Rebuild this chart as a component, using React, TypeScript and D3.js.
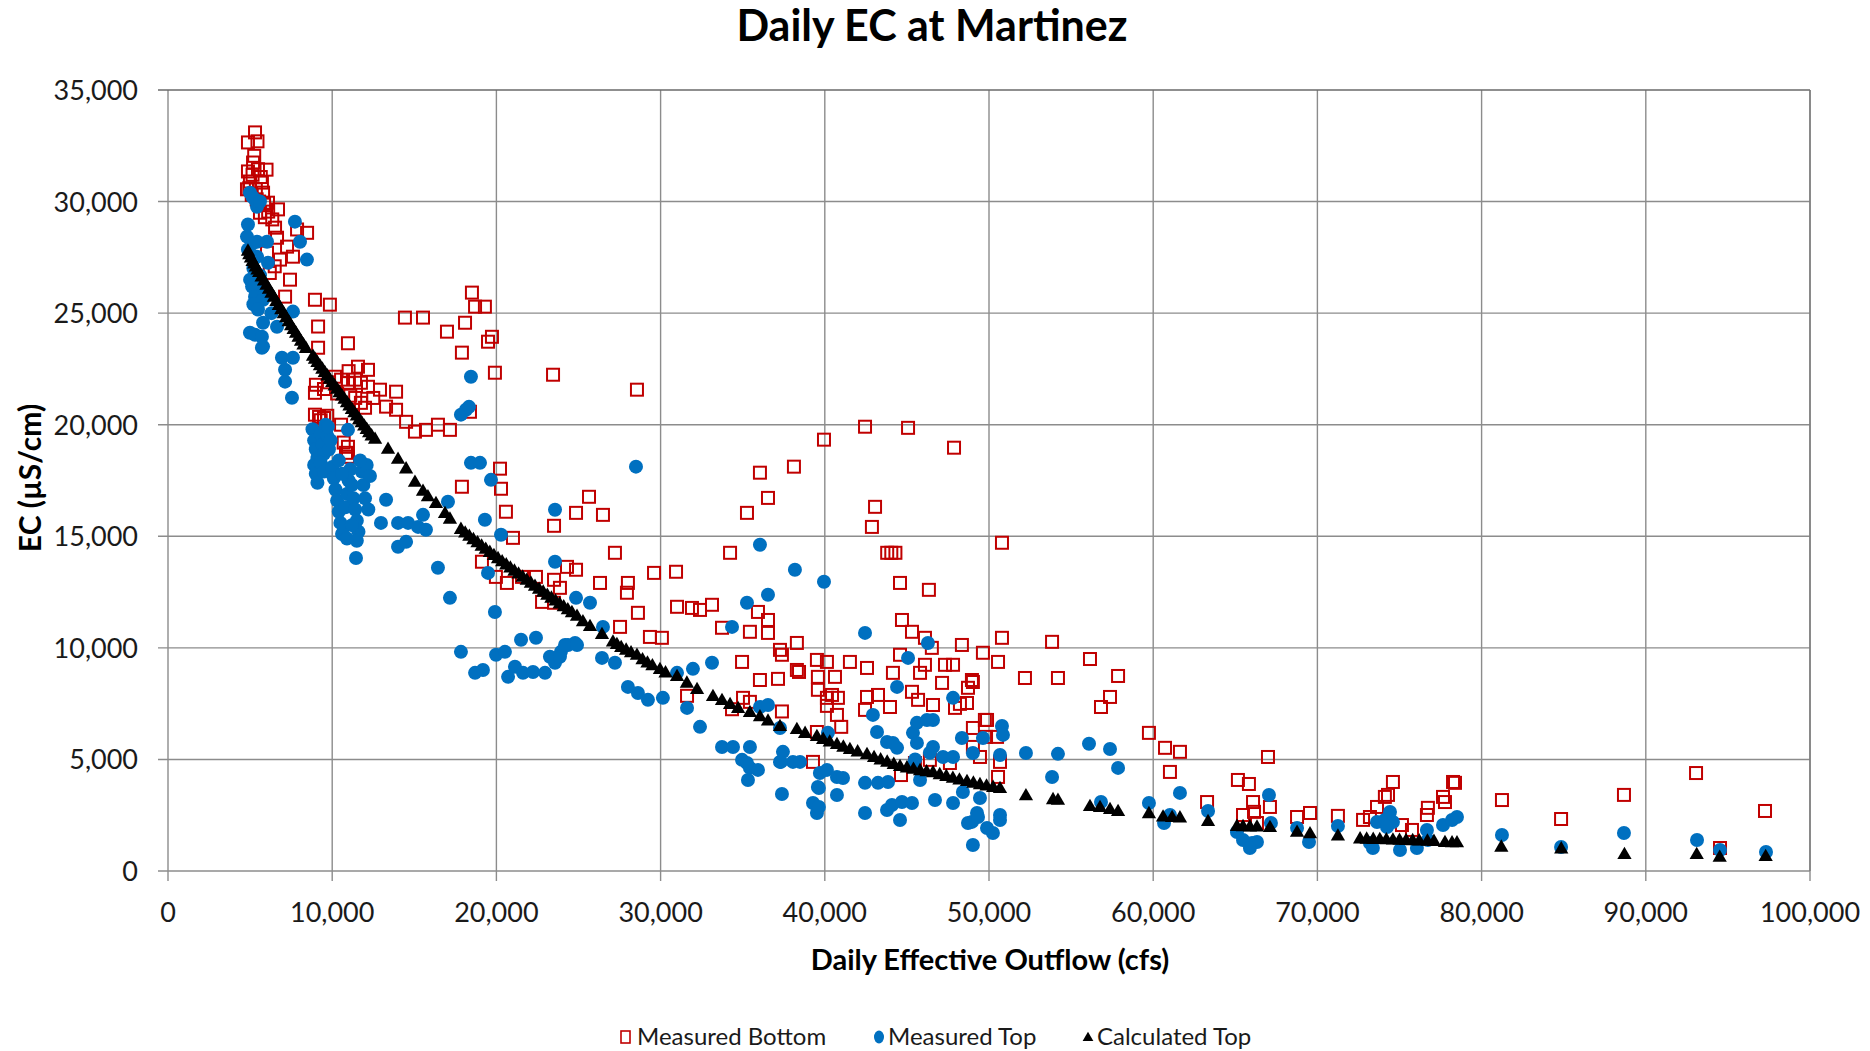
import React from "react";
import * as d3 from "d3";

const chartTitle = "Daily EC at Martinez";
const xAxisTitle = "Daily Effective Outflow (cfs)";
const yAxisTitle = "EC (µS/cm)";
const xTicks = [0, 10000, 20000, 30000, 40000, 50000, 60000, 70000, 80000, 90000, 100000];
const yTicks = [0, 5000, 10000, 15000, 20000, 25000, 30000, 35000];
const seriesNames = ["Measured Bottom", "Measured Top", "Calculated Top"];

// [Daily Effective Outflow (cfs), EC (µS/cm)]
const measuredBottom: [number, number][] = [
  [5300,33100],[4870,32650],[5450,32700],[5250,32050],[5180,31750],[4870,31350],[5480,31450],[6000,31430],[5150,31200],[5650,31100],[4990,30900],[5720,30850],[4950,30600],[5350,30550],[4810,30550],[5790,30400],[5100,30300],[5400,30100],[5550,30000],[5850,29900],[6090,29950],[6700,29650],[6100,29550],[5600,29500],[5900,29300],[6350,29200],[6520,28830],[7860,28750],[8470,28600],[6640,28380],[7250,27980],[6030,27710],[6820,27400],[7610,27530],[6500,27100],[6200,26800],[7430,26500],[7130,25740],[8950,25600],[9860,25380],[9140,24400],[10960,23650],[9140,23450],[11570,22600],[12180,22460],[11000,22400],[9010,21790],[8950,21430],[9800,21900],[9500,21600],[10170,22150],[10540,22020],[10960,21880],[11390,22020],[11750,21880],[12180,21700],[10300,21400],[11100,21300],[11400,21200],[12500,21200],[12910,21570],[13890,21480],[13280,20810],[13890,20670],[14500,20130],[15040,19690],[15710,19770],[16440,20000],[17170,19770],[18390,20580],[11750,20980],[12000,20760],[10540,20000],[8950,20450],[9200,20350],[9500,20300],[9700,20400],[9300,20200],[10700,19200],[10960,19010],[10840,18740],[10960,18560],
  [14430,24800],[15530,24800],[18510,25920],[18700,25290],[19300,25290],[16990,24170],[18090,24570],[19490,23720],[19730,23940],[17900,23230],[19910,22330],[23450,22240],[28560,21570],
  [20220,18030],[20280,17130],[17900,17220],[20580,16100],[21010,14930],[23510,15470],[24850,16050],[25640,16770],[26490,15960],[27220,14260],[19120,13860],[19970,13180],[20640,12910],[21560,13180],[22410,13180],[23510,13050],[23870,12690],[24300,13630],[24850,13500],[22780,12060],[23510,12020],[26310,12910],[28010,12910],[27950,12470],[28620,11570],[27530,10940],[29350,10490],[30080,10450],[29600,13360],[30940,13410],[31000,11840],[31910,11790],[32400,11700],[33130,11930],[31610,7850],
  [35260,16050],[36540,16720],[43060,16320],[42870,15420],[34230,14260],[43800,14260],[44050,14260],[44300,14260],[50790,14710],[42450,19910],[45070,19860],[39950,19330],[47870,18970],[38120,18120],[36050,17850],[35930,11610],[36540,11250],[36540,10670],[33740,10900],[35440,10720],[37270,9910],[37390,9690],[38300,10220],[44700,11250],[45310,10720],[46100,10450],[46520,10000],[48350,10130],[49630,9780],[50550,9370],[34960,9370],[36050,8560],[37150,8610],[38300,9010],[38430,8920],[39520,9460],[40130,9370],[39580,8700],[40620,8700],[39580,8120],[41530,9370],[42570,9100],[44150,8880],[44580,9690],[45800,8880],[46100,9240],[47320,9240],[47810,9240],[47140,8430],[48960,8560],[48720,8210],[34350,7250],[35440,7580],[35020,7760],[37390,7150],[40130,7760],[40800,7760],[40130,7400],[40440,7890],[42570,7800],[43240,7890],[42450,7220],[43970,7350],[45310,8030],[45680,7670],[46590,7440],[47930,7310],[48660,7530],[41000,6460],[40740,6995],[39520,6230],[39280,4890],[44640,4300],[45490,4840],[46400,4980],[47620,4840],[49020,6410],[49750,6770],[50490,6010],[49020,5560],[49450,5110],[50550,4215],[44580,12910],[46340,12600],[50790,10450],[49880,6770],[49820,6010],[50670,4890],[48230,7490],[49020,8470],
  [53840,10270],[52190,8650],[54200,8650],[56150,9500],[57860,8740],[57370,7800],[56820,7350],[59740,6190],[60720,5520],[61630,5340],[61020,4440],[63280,3090],[65160,4080],[65830,3900],[66990,5110],[66140,2650],[67110,2870],[66080,3090],[65470,2510],[66320,2150],[68760,2420],[69550,2600],[71250,2470],[72780,2290],[73200,2420],[73630,2870],[74110,3320],[74300,3410],[74600,3990],[75150,2060],[75760,1840],[76670,2510],[76730,2830],[77650,3320],[77770,3090],[78260,3990],[78380,3950],[81240,3180],[84840,2330],[88670,3410],[93060,4390],[94520,1030],[97260,2690]
];

const measuredTop: [number, number][] = [
  [4990,30400],[5300,30090],[5420,29770],[5150,30200],[5600,30000],[7730,29100],[8040,28200],[8460,27400],[4870,28970],[4810,28430],[5420,28200],[6030,28200],[5100,28100],[4870,27850],[5420,27530],[6090,27260],[5200,27000],[5600,26700],[5000,26500],[5400,26300],[5120,26190],[5900,26000],[5300,25740],[5790,25600],[5200,25400],[5480,25160],[6300,25000],[7610,25070],[6640,24390],[5790,24570],[4990,24120],[5300,24030],[5720,23940],[5790,23500],[5720,23450],[6940,23000],[7610,23000],[7130,22460],[7130,21930],[7550,21210],
  [8800,19800],[8900,19300],[9000,18900],[9100,18500],[8900,18200],[9000,17800],[9100,17400],[9300,19600],[9400,19100],[9500,18700],[9300,18300],[9500,17900],[9700,19500],[9800,18900],[9600,20000],[9900,19300],[9740,19910],[10960,19770],
  [10000,18100],[10100,17600],[10200,17100],[10300,16600],[10400,16100],[10500,15600],[10600,15100],[10700,15400],[10800,16300],[10900,16900],[11000,17500],[11100,18000],[10600,17800],[11200,17300],[11300,16700],[11400,16200],[11500,15700],[11600,15200],[11500,14800],[11450,14030],[11800,17900],[11900,17300],[12000,16700],[12100,18200],[12300,17700],[11700,18400],[10400,18400],[12200,16200],[10900,14900],[11200,15500],
  [12970,15600],[14010,15600],[14620,15600],[15230,15420],[15710,15290],[15530,15960],[13280,16640],[14010,14530],[14500,14750],[16440,13590],[17170,12240],[17050,16550],[19300,15740],[19670,17530],[20280,15070],[18450,18290],[19000,18290],[19490,13360],[19910,11610],[17840,9820],[18700,8880],[19180,9010],[19980,9690],[20520,9820],[21500,10360],[22410,10450],[20710,8700],[21130,9150],[21620,8880],[22230,8920],[22960,8880],[23570,9330],[23930,9820],[24360,10130],[24790,10220],[23570,16190],[23570,13860],[24850,12240],[18450,22150],[17840,20450],[18150,20670],[18330,20800],[28500,18120],
  [25700,12020],[26490,10940],[24180,10130],[24910,10130],[23260,9600],[23870,9600],[26430,9550],[27220,9330],[28010,8250],[28620,7980],[29230,7670],[30140,7760],[31000,8880],[31970,9060],[33130,9330],[31610,7310],[32400,6460],[33740,5560],[34410,5560],[35440,5560],[34960,4980],[35440,4620],[35930,4530],[35320,4080],[34350,10940],[35260,12020],[36050,14620],[38180,13500],[39950,12960],[36540,12380],
  [42450,10670],[46280,10220],[45070,9550],[36050,7350],[36540,7440],[37450,5340],[37270,4890],[38060,4890],[38490,4890],[37390,3450],[37270,6410],[40190,6190],[39700,4390],[39580,3770],[40130,4530],[40740,4215],[41110,4170],[40740,3408],[39280,3050],[39520,2600],[42450,2600],[42450,3950],[43240,3950],[43850,3990],[43790,2735],[44090,2960],[44700,3094],[45310,3050],[44580,2287],[42930,6995],[43180,6230],[43790,5780],[44150,5740],[44400,5520],[44400,8250],[45370,6190],[45610,6640],[46220,6770],[46590,6770],[45610,5740],[46590,5560],[47200,5110],[47810,5110],[45370,4750],[45800,4080],[46710,3180],[47810,3050],[47810,7760],[48350,5960],[49020,5290],[49630,5960],[48720,2150],[49270,2600],[49880,1930],[50240,1700],[49020,1165],[48410,3540],[49450,3270],[50790,6500],[50850,6100],[50670,5200],[50670,2510],[50670,2287],[48960,2200],[49330,2420],[35260,4840],[37330,4890],[39640,3720],[39640,2870],[45500,5000],[46400,5300],
  [52250,5290],[53840,4215],[54200,5250],[56090,5700],[57370,5470],[57860,4620],[56820,3094],[59740,3050],[61630,3500],[60660,2150],[61020,2510],[63340,2690],[65100,1750],[65470,1390],[66020,1255],[66320,1300],[65890,1030],[67050,3408],[67170,2150],[68760,1928],[69490,1300],[71250,2018],[73200,1255],[73380,1031],[73630,2197],[74110,2287],[74420,2646],[74600,2197],[74240,1973],[75030,941],[76060,1031],[76670,1840],[76730,1390],[77650,2063],[78200,2287],[78500,2420],[81240,1614],[84840,1076],[88670,1704],[93120,1390],[94520,941],[97320,850]
];

const calculatedTop: [number, number][] = [
  [4870,27760],[4950,27600],[5050,27450],[5150,27300],[5250,27180],[5350,27050],[5450,26920],[5550,26800],[5700,26600],[5850,26420],[6000,26230],[6150,26050],[6300,25870],[6450,25690],[6600,25500],[6750,25320],[6900,25140],[7050,24960],[7200,24780],[7350,24600],[7500,24420],[7650,24250],[7800,24080],[7950,23900],[8100,23720],[8250,23560],[8400,23400],
  [8830,23050],[8950,22920],[9100,22770],[9250,22620],[9400,22470],[9550,22320],[9700,22170],[9850,22020],[10000,21870],[10150,21720],[10300,21570],[10450,21420],[10600,21270],[10750,21120],[10900,20970],[11050,20820],[11200,20670],[11350,20520],[11500,20370],[11650,20220],[11800,20070],[11950,19920],[12100,19770],[12250,19620],[12400,19480],[12610,19330],
  [13400,18880],[14010,18430],[14500,18000],[15040,17400],[15530,17000],[15830,16750],[16320,16450],[16870,16000],[17170,15750],[17840,15290],
  [18100,15130],[18350,14980],[18600,14830],[18850,14690],[19100,14540],[19350,14400],[19600,14260],[19850,14120],[20100,13980],[20350,13840],[20600,13700],[20850,13560],[21100,13420],[21350,13290],[21600,13150],[21850,13010],[22100,12880],[22350,12740],[22600,12610],[22850,12480],[23100,12340],[23350,12210],[23600,12080],[23850,11950],[24100,11820],[24350,11690],[24600,11560],[24910,11400],
  [25270,11150],[25700,10940],[26430,10580],[27100,10240],[27340,10130],[27600,10000],[27900,9880],[28200,9760],[28560,9650],[28900,9450],[29200,9300],[29500,9180],[29960,9010],[30300,8860],[31000,8700],[31600,8400],[32220,8116],[33190,7800],[33740,7620],[34230,7440],[34720,7260],[35440,7085],[36050,6890],[36540,6700],[37270,6457],[38300,6322],[38800,6150],[39520,6009],[39900,5880],[40300,5760],[40740,5650],[41130,5530],[41530,5425],[42000,5320],[42570,5200],[43000,5070],[43400,4960],[43800,4860],[44200,4760],[44580,4663],[45000,4600],[45400,4540],[45800,4480],[46200,4430],[46590,4390],[47000,4300],[47400,4220],[47800,4140],[48200,4060],[48660,3990],[49050,3920],[49450,3850],[49850,3790],[50250,3730],[50670,3680],
  [52250,3350],[53900,3180],[54200,3150],[56150,2870],[56760,2825],[57370,2735],[57860,2650],[59740,2550],[60600,2400],[61150,2380],[61630,2360],[63340,2200],[65100,1980],[65470,1970],[65890,1960],[66320,1950],[67110,1930],[68760,1720],[69550,1650],[71250,1550],[72600,1420],[73000,1410],[73400,1400],[73800,1390],[74200,1380],[74600,1370],[75000,1360],[75400,1350],[75800,1340],[76200,1330],[76700,1320],[77100,1310],[77770,1260],[78200,1250],[78500,1250],[81200,1050],[84850,970],[88700,720],[93100,720],[94500,600],[97300,630]
];

const RED = "#C00000";
const BLUE = "#0070C0";
const GRID = "#8c8c8c";
const FONT = "Lato, Carlito, Calibri, 'Noto Sans', sans-serif";

export default function App() {
  const W = 1870;
  const H = 1051;
  const x = d3.scaleLinear().domain([0, 100000]).range([168, 1810]);
  const y = d3.scaleLinear().domain([0, 35000]).range([871, 90]);
  const fmt = d3.format(",");
  const tri = d3.symbol(d3.symbolTriangle, 88)() as string;
  const triLegend = d3.symbol(d3.symbolTriangle, 50)() as string;
  const [x0, x1] = x.range();
  const [y0, y1] = y.range();
  const sq = 12;

  return (
    <svg
      width={W}
      height={H}
      viewBox={`0 0 ${W} ${H}`}
      style={{ position: "absolute", left: 0, top: 0, display: "block", background: "#fff" }}
      fontFamily={FONT}
    >
      <rect x={0} y={0} width={W} height={H} fill="#fff" />
      <text x={932} y={41} textAnchor="middle" fontSize={43} fontWeight={700} fill="#000">
        {chartTitle}
      </text>

      {/* gridlines */}
      {xTicks.map((t) => (
        <line key={"gx" + t} x1={x(t)} x2={x(t)} y1={y1} y2={y0 + 10} stroke={GRID} strokeWidth={1.4} />
      ))}
      {yTicks.map((t) => (
        <line key={"gy" + t} x1={x0 - 10} x2={x1} y1={y(t)} y2={y(t)} stroke={t === 35000 ? "#6a6a6a" : GRID} strokeWidth={1.4} />
      ))}
      <line x1={x1} x2={x1} y1={y1} y2={y0} stroke="#7a7a7a" strokeWidth={1.4} />

      {/* tick labels */}
      {xTicks.map((t) => (
        <text key={"tx" + t} x={x(t)} y={922} textAnchor="middle" fontSize={27} fill="#1a1a1a">
          {fmt(t)}
        </text>
      ))}
      {yTicks.map((t) => (
        <text key={"ty" + t} x={138} y={y(t) + 10} textAnchor="end" fontSize={27} fill="#1a1a1a">
          {fmt(t)}
        </text>
      ))}

      {/* axis titles */}
      <text x={990} y={970} textAnchor="middle" fontSize={29} fontWeight={700} fill="#000">
        {xAxisTitle}
      </text>
      <text
        transform={`translate(41, 478) rotate(-90)`}
        textAnchor="middle"
        fontSize={30}
        fontWeight={700}
        fill="#000"
      >
        {yAxisTitle}
      </text>

      {/* Measured Bottom */}
      <g>
        {measuredBottom.map((d, i) => (
          <rect
            key={"b" + i}
            x={x(d[0]) - sq / 2}
            y={y(d[1]) - sq / 2}
            width={sq}
            height={sq}
            fill="none"
            stroke={RED}
            strokeWidth={2}
          />
        ))}
      </g>
      {/* Measured Top */}
      <g>
        {measuredTop.map((d, i) => (
          <circle key={"t" + i} cx={x(d[0])} cy={y(d[1])} r={7} fill={BLUE} />
        ))}
      </g>
      {/* Calculated Top */}
      <g>
        {calculatedTop.map((d, i) => (
          <path key={"c" + i} d={tri} transform={`translate(${x(d[0])},${y(d[1])})`} fill="#000" />
        ))}
      </g>

      {/* legend */}
      <g fontSize={24} fill="#1a1a1a">
        <rect x={621} y={1031} width={9} height={12} fill="none" stroke={RED} strokeWidth={1.6} />
        <text x={637} y={1045}>{seriesNames[0]}</text>
        <ellipse cx={879} cy={1037} rx={5} ry={6.5} fill={BLUE} />
        <text x={888} y={1045}>{seriesNames[1]}</text>
        <path d={triLegend} transform="translate(1088,1038)" fill="#000" />
        <text x={1097} y={1045}>{seriesNames[2]}</text>
      </g>
    </svg>
  );
}
